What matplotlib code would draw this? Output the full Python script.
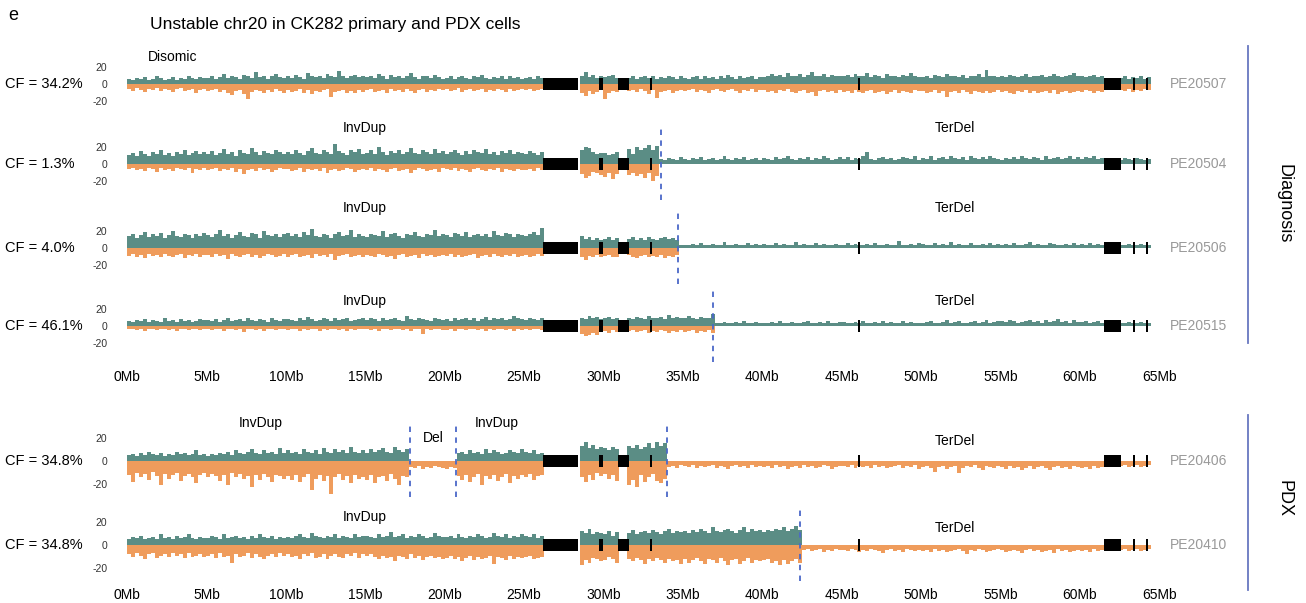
import matplotlib
matplotlib.use("Agg")
import matplotlib.pyplot as plt
import numpy as np

plt.rcParams['font.family'] = ['Liberation Sans', 'DejaVu Sans']

W, H = 1306, 603
BIN = 0.25  # Mb per bin

samples = ["PE20507", "PE20504", "PE20506", "PE20515", "PE20406", "PE20410"]
cf_labels = ["CF = 34.2%", "CF = 1.3%", "CF = 4.0%", "CF = 46.1%", "CF = 34.8%", "CF = 34.8%"]
breakpoints = [[], [33.6], [34.7], [36.9], [17.8, 20.7, 34.0], [42.4]]

# assembly gaps / centromere drawn as black blocks (Mb)
gap_start = [26.2, 29.75, 30.9, 32.95, 46.05, 61.5, 63.35, 64.15]
gap_end = [28.4, 29.95, 31.6, 33.08, 46.17, 62.6, 63.47, 64.3]

# read counts per 0.25Mb bin from 0Mb, Watson (up) and Crick (down);
# a list stops where that strand has no more reads
w_pe20507 = [6, 5, 7, 6, 8, 5, 6, 9, 7, 5, 6, 8, 5, 7, 6, 10, 7, 6, 8, 7,
             7, 9, 6, 8, 12, 7, 10, 8, 6, 11, 9, 7, 14, 8, 9, 6, 10, 12, 8, 7,
             9, 7, 11, 8, 6, 13, 9, 8, 10, 7, 12, 9, 8, 15, 10, 7, 9, 11, 8, 10,
             8, 10, 7, 12, 9, 6, 11, 8, 10, 7, 9, 13, 8, 6, 10, 9, 7, 11, 8, 6,
             7, 9, 6, 8, 10, 7, 6, 9, 8, 11, 7, 6, 8, 7, 10, 6, 9, 7, 8, 6,
             7, 8, 6, 9, 7, 0, 0, 0, 0, 0, 0, 0, 0, 0, 9, 14, 8, 11, 7, 10,
             8, 9, 11, 7, 0, 0, 7, 9, 6, 8, 10, 7, 9, 6, 8, 7, 10, 8, 6, 9,
             7, 6, 8, 9, 6, 10, 7, 8, 6, 9, 7, 11, 8, 6, 9, 7, 8, 10, 6, 8,
             8, 10, 12, 9, 11, 8, 13, 10, 9, 12, 8, 11, 14, 9, 10, 12, 8, 11, 9, 10,
             9, 11, 8, 12, 10, 9, 13, 8, 11, 10, 7, 12, 9, 10, 8, 11, 9, 13, 10, 8,
             8, 10, 7, 11, 9, 8, 12, 10, 9, 8, 11, 7, 10, 9, 12, 8, 16, 10, 9, 8,
             9, 8, 11, 10, 8, 9, 12, 8, 10, 9, 11, 8, 9, 12, 10, 8, 9, 11, 13, 9,
             10, 8, 9, 11, 8, 9, 0, 0, 0, 0, 7, 9, 6, 8, 7, 9, 6, 8]
c_pe20507 = [6, 8, 5, 7, 9, 6, 7, 5, 8, 6, 7, 9, 6, 5, 8, 7, 6, 10, 7, 6,
             8, 7, 6, 9, 7, 10, 13, 8, 7, 12, 18, 9, 7, 8, 11, 7, 9, 6, 8, 10,
             7, 9, 8, 6, 10, 7, 12, 8, 9, 7, 6, 15, 9, 8, 7, 10, 8, 11, 7, 9,
             7, 6, 9, 8, 7, 10, 6, 8, 7, 9, 6, 8, 10, 7, 6, 9, 7, 8, 6, 7,
             6, 8, 7, 5, 9, 7, 6, 8, 7, 6, 9, 7, 8, 6, 7, 9, 6, 8, 7, 6,
             7, 6, 8, 7, 6, 0, 0, 0, 0, 0, 0, 0, 0, 0, 10, 14, 8, 12, 9, 7,
             18, 10, 8, 9, 0, 0, 8, 7, 9, 6, 8, 12, 7, 16, 9, 8, 7, 10, 8, 7,
             8, 7, 6, 9, 7, 8, 10, 7, 6, 8, 9, 7, 6, 8, 10, 7, 8, 6, 9, 7,
             7, 9, 8, 10, 7, 8, 6, 9, 11, 8, 7, 10, 9, 14, 8, 7, 9, 8, 10, 7,
             9, 8, 10, 7, 9, 11, 8, 7, 10, 9, 8, 12, 9, 7, 10, 8, 9, 11, 7, 8,
             8, 11, 9, 7, 10, 8, 15, 9, 8, 10, 7, 9, 12, 8, 9, 10, 8, 11, 9, 7,
             9, 8, 10, 12, 8, 9, 7, 10, 8, 11, 9, 8, 10, 7, 12, 9, 8, 10, 9, 8,
             9, 7, 8, 10, 8, 9, 0, 0, 0, 0, 7, 8, 6, 9, 7, 8, 6, 7]

w_pe20504 = [11, 13, 10, 15, 12, 9, 14, 12, 16, 11, 13, 10, 14, 12, 17, 11, 13, 15, 12, 14,
             12, 15, 11, 13, 18, 12, 14, 10, 16, 13, 12, 19, 14, 11, 15, 13, 12, 17, 14, 12,
             14, 12, 16, 13, 11, 15, 19, 13, 12, 16, 14, 12, 24, 15, 13, 11, 16, 14, 18, 12,
             13, 16, 12, 20, 14, 11, 15, 13, 17, 12, 14, 19, 13, 12, 16, 14, 12, 18, 13, 15,
             12, 14, 17, 13, 11, 15, 12, 16, 14, 13, 18, 12, 14, 11, 15, 13, 16, 12, 14, 13,
             12, 15, 13, 11, 14, 0, 0, 0, 0, 0, 0, 0, 0, 0, 16, 20, 19, 14, 12, 13,
             13, 11, 12, 14, 0, 0, 18, 12, 20, 16, 19, 22, 17, 21, 6, 5, 7, 6, 5, 8,
             6, 5, 7, 6, 8, 5, 6, 7, 5, 6, 9, 6, 5, 7, 6, 8, 5, 6, 7, 5,
             7, 6, 5, 8, 6, 7, 10, 6, 5, 7, 6, 8, 5, 7, 6, 9, 7, 5, 6, 8,
             6, 8, 5, 7, 6, 9, 14, 6, 5, 7, 8, 6, 7, 5, 6, 8, 7, 6, 9, 5,
             7, 6, 9, 5, 7, 8, 6, 10, 7, 6, 8, 5, 9, 7, 6, 8, 6, 10, 7, 6,
             5, 7, 6, 8, 6, 9, 7, 6, 8, 7, 5, 9, 6, 7, 8, 6, 7, 9, 6, 8,
             6, 8, 7, 9, 6, 7, 0, 0, 0, 0, 5, 7, 6, 5, 7, 6, 5, 6]
c_pe20504 = [6, 5, 7, 6, 8, 5, 6, 9, 5, 7, 6, 8, 5, 6, 7, 5, 10, 6, 7, 5,
             7, 6, 5, 8, 6, 7, 5, 9, 6, 12, 7, 6, 8, 5, 7, 6, 9, 7, 5, 6,
             6, 8, 7, 5, 9, 6, 7, 6, 8, 5, 11, 7, 6, 8, 7, 5, 6, 9, 7, 6,
             7, 5, 8, 6, 7, 9, 6, 5, 8, 7, 6, 10, 7, 5, 6, 8, 7, 6, 9, 5,
             6, 7, 5, 8, 6, 7, 9, 6, 5, 7, 8, 6, 7, 5, 9, 6, 7, 8, 6, 7,
             7, 6, 8, 5, 7, 0, 0, 0, 0, 0, 0, 0, 0, 0, 12, 17, 14, 9, 11, 13,
             15, 11, 18, 12, 0, 0, 13, 10, 14, 12, 17, 11, 20, 14]

w_pe20506 = [14, 17, 12, 15, 19, 13, 16, 14, 18, 12, 15, 20, 14, 13, 17, 15, 12, 16, 14, 18,
             15, 13, 17, 21, 14, 16, 12, 15, 19, 14, 13, 18, 16, 12, 20, 15, 14, 17, 13, 16,
             18, 14, 16, 13, 19, 15, 22, 14, 13, 17, 15, 12, 16, 19, 14, 15, 21, 13, 16, 14,
             13, 17, 15, 14, 20, 13, 16, 18, 14, 12, 17, 15, 19, 14, 13, 16, 15, 21, 14, 16,
             15, 13, 18, 16, 14, 19, 13, 15, 17, 14, 16, 13, 20, 15, 14, 18, 16, 13, 17, 15,
             14, 16, 19, 15, 24, 0, 0, 0, 0, 0, 0, 0, 0, 0, 14, 11, 13, 10, 12, 9,
             11, 13, 10, 12, 0, 0, 11, 13, 10, 12, 9, 13, 11, 10, 12, 13, 11, 12, 10, 4,
             4, 3, 5, 4, 6, 3, 4, 5, 3, 4, 7, 4, 3, 5, 4, 3, 6, 4, 5, 3,
             5, 4, 3, 6, 4, 5, 3, 4, 7, 4, 5, 3, 4, 6, 3, 5, 4, 3, 5, 4,
             4, 6, 3, 5, 4, 3, 5, 4, 6, 3, 4, 5, 3, 4, 8, 4, 3, 5, 4, 6,
             5, 3, 4, 6, 4, 5, 3, 7, 4, 5, 3, 4, 6, 4, 3, 5, 4, 6, 3, 5,
             4, 5, 3, 6, 4, 3, 5, 7, 4, 5, 3, 4, 6, 5, 3, 4, 5, 3, 6, 4,
             5, 4, 6, 3, 5, 4, 0, 0, 0, 0, 4, 3, 5, 4, 3, 5, 4, 3]
c_pe20506 = [9, 7, 10, 8, 12, 7, 9, 8, 11, 7, 9, 10, 8, 7, 12, 8, 9, 7, 10, 8,
             8, 10, 7, 9, 8, 13, 7, 9, 11, 8, 7, 10, 8, 12, 9, 7, 8, 11, 9, 7,
             10, 8, 7, 11, 9, 8, 12, 7, 9, 8, 10, 7, 14, 9, 8, 7, 11, 9, 8, 10,
             8, 9, 11, 7, 8, 10, 9, 13, 8, 7, 10, 9, 8, 12, 7, 9, 8, 10, 9, 8,
             9, 7, 10, 8, 11, 9, 8, 7, 12, 9, 8, 10, 7, 9, 11, 8, 9, 7, 10, 9,
             8, 10, 9, 7, 9, 0, 0, 0, 0, 0, 0, 0, 0, 0, 10, 14, 9, 11, 8, 10,
             9, 8, 11, 10, 0, 0, 8, 10, 12, 9, 8, 11, 9, 10, 8, 12, 9, 11, 8]

w_pe20515 = [6, 5, 7, 6, 8, 5, 7, 6, 5, 9, 6, 7, 5, 8, 6, 7, 5, 6, 8, 7,
             7, 6, 8, 5, 7, 9, 6, 7, 8, 6, 10, 7, 6, 8, 7, 5, 9, 7, 6, 8,
             8, 7, 6, 9, 7, 11, 8, 6, 7, 9, 8, 6, 10, 7, 8, 9, 6, 7, 8, 10,
             7, 9, 8, 6, 10, 7, 8, 9, 7, 6, 12, 8, 7, 9, 8, 7, 6, 9, 8, 7,
             8, 6, 9, 7, 8, 10, 7, 9, 6, 8, 11, 7, 9, 8, 10, 7, 8, 12, 9, 8,
             7, 9, 8, 7, 10, 0, 0, 0, 0, 0, 0, 0, 0, 0, 10, 8, 12, 9, 11, 8,
             9, 11, 8, 10, 0, 0, 9, 8, 11, 10, 8, 12, 9, 10, 11, 8, 13, 9, 11, 10,
             9, 12, 10, 8, 11, 9, 10, 14, 4, 3, 5, 4, 3, 5, 4, 6, 3, 4, 5, 4,
             4, 3, 5, 4, 6, 3, 4, 5, 3, 4, 5, 6, 4, 3, 5, 4, 6, 3, 4, 5,
             5, 4, 3, 5, 4, 6, 4, 3, 5, 4, 6, 3, 5, 4, 3, 6, 4, 5, 3, 4,
             4, 5, 6, 4, 3, 5, 7, 4, 5, 6, 4, 3, 5, 6, 4, 5, 7, 4, 5, 6,
             6, 5, 7, 6, 4, 5, 6, 7, 5, 6, 4, 7, 5, 6, 8, 5, 6, 4, 7, 5,
             5, 6, 4, 5, 6, 4, 0, 0, 0, 0, 4, 3, 5, 4, 3, 5, 4, 3]
c_pe20515 = [4, 3, 5, 4, 6, 3, 4, 5, 3, 4, 5, 3, 6, 4, 3, 5, 4, 3, 5, 4,
             4, 5, 3, 4, 6, 4, 3, 5, 4, 7, 4, 3, 5, 4, 6, 3, 4, 5, 3, 4,
             5, 4, 3, 6, 4, 5, 3, 4, 6, 4, 5, 3, 4, 5, 3, 6, 4, 5, 4, 3,
             4, 5, 3, 6, 4, 3, 5, 4, 3, 5, 4, 6, 3, 4, 9, 4, 5, 3, 4, 5,
             5, 4, 6, 3, 4, 5, 4, 3, 5, 4, 6, 3, 5, 4, 3, 5, 4, 6, 4, 5,
             4, 5, 3, 4, 5, 0, 0, 0, 0, 0, 0, 0, 0, 0, 9, 12, 10, 8, 11, 7,
             6, 8, 5, 7, 0, 0, 6, 5, 7, 6, 5, 8, 6, 7, 5, 6, 8, 6, 7, 5,
             7, 6, 5, 8, 6, 7, 5, 8]

w_pe20406 = [5, 6, 4, 7, 5, 8, 6, 5, 7, 4, 6, 5, 8, 6, 7, 5, 6, 9, 5, 6,
             4, 6, 5, 7, 6, 8, 5, 9, 7, 6, 8, 10, 7, 6, 9, 7, 8, 6, 11, 7,
             9, 7, 8, 6, 10, 8, 7, 9, 6, 11, 8, 7, 10, 8, 9, 7, 12, 8, 7, 9,
             7, 10, 8, 9, 11, 8, 7, 12, 9, 8, 10, 0, 0, 0, 0, 0, 0, 0, 0, 0,
             0, 0, 0, 7, 8, 6, 9, 7, 8, 6, 10, 7, 9, 8, 6, 7, 9, 8, 7, 10,
             8, 7, 9, 6, 7, 0, 0, 0, 0, 0, 0, 0, 0, 0, 13, 16, 11, 14, 10, 12,
             11, 9, 12, 10, 0, 0, 13, 11, 14, 10, 12, 15, 11, 16, 13, 15]
c_pe20406 = [12, 18, 10, 14, 11, 16, 9, 13, 20, 11, 15, 12, 10, 17, 13, 11, 14, 19, 12, 10,
             14, 11, 13, 17, 12, 20, 10, 14, 11, 15, 13, 22, 12, 16, 11, 14, 18, 12, 13, 15,
             13, 16, 12, 18, 14, 11, 25, 15, 12, 17, 13, 28, 14, 11, 16, 13, 19, 12, 15, 14,
             16, 12, 19, 14, 13, 17, 11, 15, 20, 13, 14, 5, 6, 4, 7, 5, 6, 4, 5, 6,
             7, 5, 6, 13, 16, 12, 18, 14, 11, 20, 13, 15, 12, 17, 14, 11, 19, 13, 15, 12,
             14, 11, 16, 13, 12, 0, 0, 0, 0, 0, 0, 0, 0, 0, 14, 18, 12, 16, 10, 13,
             11, 15, 12, 17, 0, 0, 20, 16, 22, 12, 18, 14, 11, 17, 19, 15, 5, 4, 6, 3,
             4, 5, 3, 6, 4, 5, 4, 3, 6, 4, 5, 7, 4, 3, 5, 4, 6, 3, 5, 4,
             5, 4, 6, 3, 5, 4, 7, 5, 4, 6, 3, 5, 4, 6, 5, 3, 4, 7, 5, 4,
             4, 5, 3, 6, 4, 5, 4, 6, 3, 5, 4, 6, 5, 4, 3, 6, 4, 5, 3, 7,
             5, 4, 6, 9, 5, 4, 7, 5, 4, 10, 6, 4, 5, 3, 6, 8, 4, 5, 6, 4,
             5, 7, 4, 6, 5, 8, 6, 4, 7, 5, 4, 6, 8, 5, 4, 6, 5, 7, 4, 5,
             6, 5, 7, 4, 6, 5, 0, 0, 0, 0, 4, 3, 5, 4, 3, 5, 4, 3]

w_pe20410 = [5, 7, 6, 8, 5, 6, 7, 5, 9, 6, 7, 5, 8, 6, 7, 9, 6, 5, 7, 6,
             6, 8, 7, 5, 9, 6, 7, 8, 6, 7, 5, 8, 6, 9, 7, 6, 8, 5, 7, 6,
             7, 6, 8, 9, 7, 6, 10, 8, 7, 6, 8, 7, 9, 6, 8, 7, 6, 9, 7, 8,
             8, 7, 6, 9, 7, 8, 11, 7, 8, 9, 6, 8, 7, 9, 8, 6, 7, 10, 8, 7,
             7, 8, 6, 9, 7, 6, 8, 7, 9, 8, 6, 7, 10, 8, 7, 9, 6, 8, 7, 9,
             8, 7, 9, 6, 8, 0, 0, 0, 0, 0, 0, 0, 0, 0, 12, 10, 14, 9, 11, 10,
             9, 12, 8, 11, 0, 0, 10, 13, 9, 11, 12, 10, 13, 11, 9, 12, 14, 10, 12, 11,
             12, 10, 13, 11, 14, 12, 10, 15, 12, 11, 13, 14, 12, 10, 13, 15, 11, 14, 12, 13,
             11, 13, 12, 14, 13, 15, 12, 14, 16, 13]
c_pe20410 = [8, 10, 7, 9, 12, 8, 7, 11, 9, 8, 10, 7, 9, 8, 11, 7, 10, 9, 8, 10,
             9, 8, 11, 7, 10, 9, 15, 8, 10, 9, 7, 11, 8, 10, 12, 9, 8, 10, 7, 9,
             8, 10, 9, 12, 8, 9, 7, 11, 10, 8, 12, 9, 8, 10, 11, 8, 9, 7, 11, 8,
             9, 8, 10, 12, 9, 11, 10, 14, 9, 10, 12, 8, 11, 9, 13, 10, 9, 11, 10, 12,
             11, 9, 12, 10, 14, 11, 9, 13, 10, 12, 11, 9, 16, 10, 11, 13, 9, 12, 10, 11,
             10, 9, 12, 11, 10, 0, 0, 0, 0, 0, 0, 0, 0, 0, 17, 13, 15, 11, 12, 14,
             13, 10, 12, 15, 0, 0, 12, 14, 11, 13, 16, 12, 14, 11, 13, 15, 12, 14, 13, 16,
             12, 15, 13, 11, 14, 16, 12, 13, 15, 11, 14, 17, 13, 12, 16, 14, 11, 15, 13, 14,
             13, 12, 15, 14, 17, 13, 16, 14, 12, 15, 4, 3, 5, 4, 3, 6, 4, 5, 3, 4,
             4, 5, 3, 4, 6, 4, 5, 3, 4, 5, 7, 4, 3, 5, 4, 6, 3, 4, 5, 4,
             5, 4, 6, 3, 5, 4, 6, 5, 4, 3, 5, 8, 4, 5, 3, 4, 6, 5, 4, 3,
             4, 6, 5, 4, 5, 7, 4, 3, 5, 4, 6, 5, 4, 7, 3, 5, 4, 6, 5, 4,
             5, 4, 6, 3, 5, 4, 0, 0, 0, 0, 4, 3, 5, 4, 3, 5, 4, 3]

watson = [w_pe20507, w_pe20504, w_pe20506, w_pe20515, w_pe20406, w_pe20410]
crick = [c_pe20507, c_pe20504, c_pe20506, c_pe20515, c_pe20406, c_pe20410]

# layout (pixels)
zero_y = [84, 164, 248, 326, 461, 545]
px_per_unit = [17 / 20] * 4 + [23.5 / 20] * 2
HALF = 36
X0, PX_PER_MB = 127, 15.88

TEAL = "#5b8d85"
ORANGE = "#ef9c5c"
DASH = "#4b68c8"
SIDE = "#6877c0"

fig = plt.figure(figsize=(W / 100, H / 100), dpi=100)


def ftxt(x, y, s, **kw):
    fig.text(x / W, 1 - y / H, s, **kw)


for i in range(6):
    ax = fig.add_axes([X0 / W, (H - zero_y[i] - HALF) / H,
                       65 * PX_PER_MB / W, 2 * HALF / H])
    lim = HALF / px_per_unit[i]
    xw = np.arange(len(watson[i])) * BIN
    xc = np.arange(len(crick[i])) * BIN
    ax.bar(xw, watson[i], width=BIN, align='edge', color=TEAL, linewidth=0)
    ax.bar(xc, -np.array(crick[i]), width=BIN, align='edge', color=ORANGE, linewidth=0)
    bh = 6 / px_per_unit[i]
    gw = np.array(gap_end) - np.array(gap_start)
    ax.bar(gap_start, 2 * bh, width=gw, bottom=-bh, align='edge',
           color='black', linewidth=0, zorder=3)
    for b in breakpoints[i]:
        ax.axvline(b, color=DASH, lw=1.3, ls=(0, (3, 3)), zorder=4)
    ax.set_xlim(0, 65)
    ax.set_ylim(-lim, lim)
    for s in ax.spines.values():
        s.set_visible(False)
    ax.set_yticks([20, 0, -20])
    ax.set_yticklabels(["20", "0", "-20"], fontsize=7.5, color="#333333")
    ax.tick_params(axis='y', length=0, pad=14)
    ax.set_xticks(np.arange(0, 66, 5))
    if i in (3, 5):
        ax.set_xticklabels([f"{v}Mb" for v in range(0, 66, 5)], fontsize=10)
        ax.tick_params(axis='x', length=0, pad=6 if i == 3 else 5)
    else:
        ax.tick_params(axis='x', length=0, labelbottom=False)
    ax.patch.set_alpha(0)
    ftxt(5, zero_y[i], cf_labels[i], fontsize=10.5, va='center', ha='left')
    ftxt(1170, zero_y[i], samples[i], fontsize=10, va='center', ha='left', color="#999999")

# event labels
ftxt(173, 57, "Disomic", fontsize=10, ha='center', va='center')
for y in (128, 208, 301):
    ftxt(365, y, "InvDup", fontsize=10, ha='center', va='center')
    ftxt(955, y, "TerDel", fontsize=10, ha='center', va='center')
ftxt(261, 423, "InvDup", fontsize=10, ha='center', va='center')
ftxt(433, 438, "Del", fontsize=10, ha='center', va='center')
ftxt(497, 423, "InvDup", fontsize=10, ha='center', va='center')
ftxt(955, 441, "TerDel", fontsize=10, ha='center', va='center')
ftxt(365, 517, "InvDup", fontsize=10, ha='center', va='center')
ftxt(955, 528, "TerDel", fontsize=10, ha='center', va='center')

ftxt(8, 16, "e", fontsize=13, ha='left', va='center')
ftxt(150, 24, "Unstable chr20 in CK282 primary and PDX cells", fontsize=12.5, ha='left', va='center')

# group brackets
fig.add_artist(plt.Line2D([1248 / W] * 2, [1 - 46 / H, 1 - 343 / H], color=SIDE, lw=1.3))
fig.add_artist(plt.Line2D([1248 / W] * 2, [1 - 415 / H, 1 - 590 / H], color=SIDE, lw=1.3))
ftxt(1284, 204, "Diagnosis", fontsize=13, rotation=270, ha='center', va='center')
ftxt(1284, 499, "PDX", fontsize=13, rotation=270, ha='center', va='center')

fig.savefig("out.png", dpi=100)
